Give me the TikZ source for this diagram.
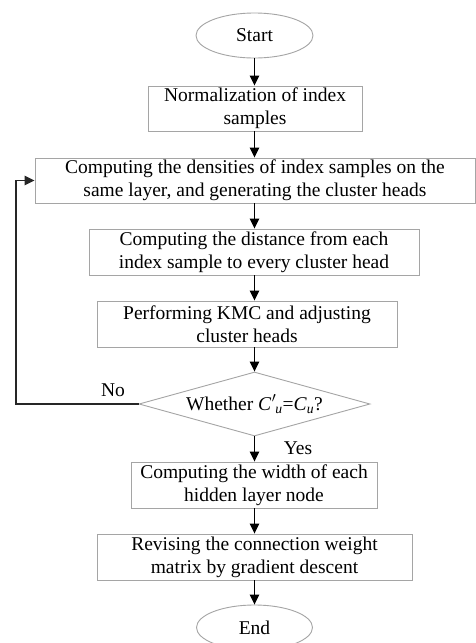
\documentclass[tikz,border=0pt]{standalone}
\usepackage{fontspec}
\setmainfont{Liberation Serif}
\usetikzlibrary{shapes.geometric,arrows.meta}
\definecolor{boxgray}{RGB}{165,165,165}
\begin{document}
\begin{tikzpicture}[x=1pt,y=-1pt,
  every node/.style={font=\fontsize{19.5}{23}\selectfont, inner sep=0pt, align=center},
  stepbox/.style={draw=boxgray, line width=0.9pt, rectangle},
  term/.style={draw=boxgray, line width=0.9pt, ellipse},
  decide/.style={draw=boxgray, line width=0.9pt, diamond, aspect=3.6},
  flow/.style={draw=black, line width=1.3pt, -{Triangle[length=10pt,width=9.5pt]}},
  lbl/.style={font=\fontsize{19.5}{23}\selectfont}
]
\clip (0,0) rectangle (476,643);
\fill[white] (0,0) rectangle (476,643);

% terminals
\node[term, minimum width=117pt, minimum height=45pt] (start) at (254.5,35.5) {Start};
\node[term, minimum width=116pt, minimum height=45pt] (end) at (254.5,627.5) {End};

% processing steps
\node[stepbox, minimum width=214pt, minimum height=45pt] (norm) at (255,108.5)
  {Normalization of index\\samples};
\node[stepbox, minimum width=440pt, minimum height=45pt] (dens) at (255,180.5)
  {Computing the densities of index samples on the\\same layer, and generating the cluster heads};
\node[stepbox, minimum width=330pt, minimum height=46pt] (dist) at (254,252)
  {Computing the distance from each\\index sample to every cluster head};
\node[stepbox, minimum width=300pt, minimum height=46pt] (kmc) at (247,324)
  {Performing KMC and adjusting\\cluster heads};

% decision
\node[decide, minimum width=231pt, minimum height=64pt] (dec) at (254.5,404)
  {Whether \textit{C}\kern0.5pt$'$\kern-1pt\textsubscript{\textit{u}}=\textit{C}\textsubscript{\textit{u}}?};

\node[stepbox, minimum width=246pt, minimum height=46pt] (width) at (254,485)
  {Computing the width of each\\hidden layer node};
\node[stepbox, minimum width=315pt, minimum height=46pt] (rev) at (254.5,557)
  {Revising the connection weight\\matrix by gradient descent};

% connectors
\draw[flow] (start.south) -- (start.south |- norm.north);
\draw[flow] (start.south |- norm.south) -- (start.south |- dens.north);
\draw[flow] (start.south |- dens.south) -- (start.south |- dist.north);
\draw[flow] (start.south |- dist.south) -- (start.south |- kmc.north);
\draw[flow] (start.south |- kmc.south) -- (dec.north);
\draw[flow] (dec.south) -- (dec.south |- width.north);
\draw[flow] (dec.south |- width.south) -- (dec.south |- rev.north);
\draw[flow] (dec.south |- rev.south) -- (end.north);

% loop back when the heads changed
\coordinate (loopx) at (16,0);
\draw[flow, draw=black!85] (dec.west) -- (loopx |- dec.west) -- (loopx |- dens.west) -- (dens.west);

% branch labels
\node[lbl] (no) at (113,390) {No};
\node[lbl] (yes) at (298,448) {Yes};
\end{tikzpicture}
\end{document}
